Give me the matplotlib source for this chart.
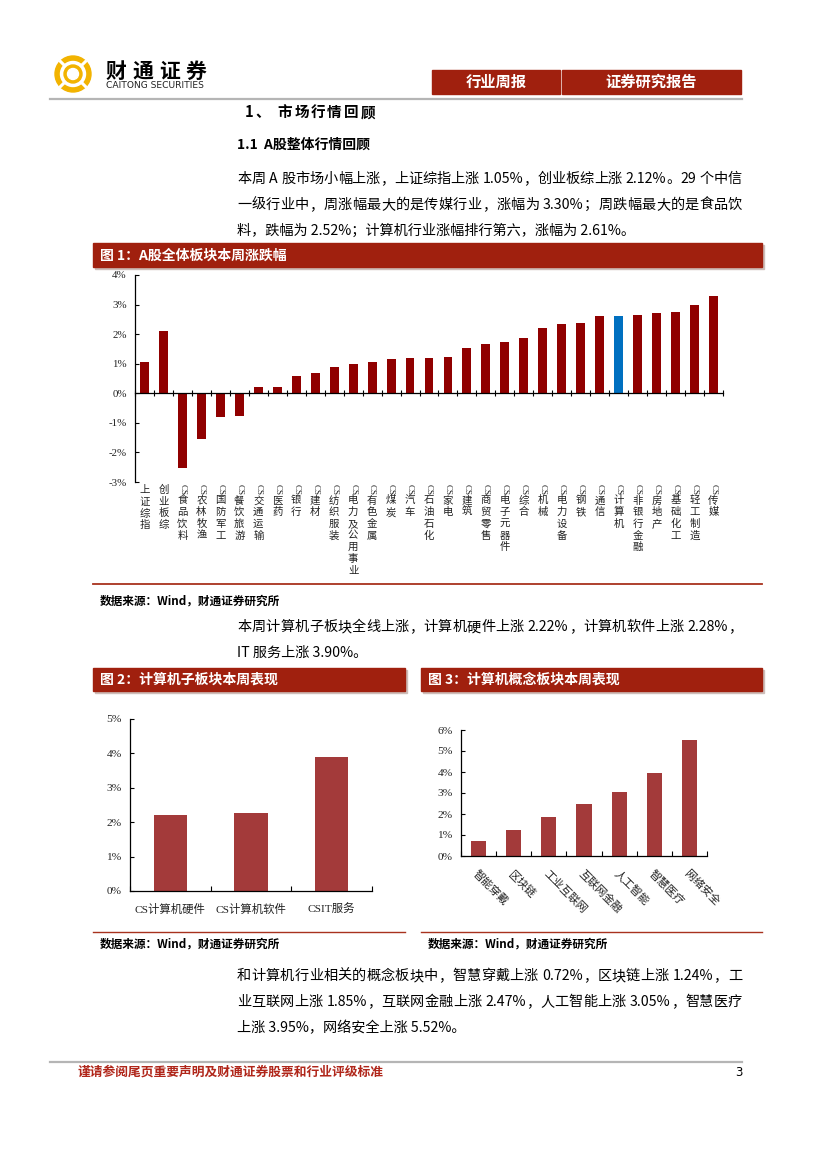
import matplotlib
matplotlib.use('Agg')
import matplotlib.pyplot as plt
import numpy as np
from matplotlib.patches import Rectangle, Circle

W, H = 827, 1170
CJK = ['Noto Sans CJK SC', 'DejaVu Sans']
SER = ['Liberation Serif', 'Noto Sans CJK SC']
PT = 0.72  # points per pixel at 100 dpi

# ---------------- data ----------------
cats1 = ['上证综指', '创业板综', 'CS食品饮料', 'CS农林牧渔', 'CS国防军工', 'CS餐饮旅游',
         'CS交通运输', 'CS医药', 'CS银行', 'CS建材', 'CS纺织服装', 'CS电力及公用事业',
         'CS有色金属', 'CS煤炭', 'CS汽车', 'CS石油石化', 'CS家电', 'CS建筑', 'CS商贸零售',
         'CS电子元器件', 'CS综合', 'CS机械', 'CS电力设备', 'CS钢铁', 'CS通信', 'CS计算机',
         'CS非银行金融', 'CS房地产', 'CS基础化工', 'CS轻工制造', 'CS传媒']
vals1 = [1.05, 2.12, -2.52, -1.55, -0.81, -0.78, 0.20, 0.21, 0.60, 0.70, 0.88, 0.98,
         1.06, 1.16, 1.19, 1.20, 1.24, 1.54, 1.65, 1.73, 1.88, 2.20, 2.35, 2.38, 2.60, 2.61,
         2.65, 2.70, 2.74, 2.98, 3.30]
highlight1 = 'CS计算机'
yticks1 = [-3, -2, -1, 0, 1, 2, 3, 4]

cats2 = ['CS计算机硬件', 'CS计算机软件', 'CSIT服务']
vals2 = [2.22, 2.28, 3.90]
yticks2 = [0, 1, 2, 3, 4, 5]

cats3 = ['智能穿戴', '区块链', '工业互联网', '互联网金融', '人工智能', '智慧医疗', '网络安全']
vals3 = [0.72, 1.24, 1.85, 2.47, 3.05, 3.95, 5.52]
yticks3 = [0, 1, 2, 3, 4, 5, 6]

para1 = ['本周 A 股市场小幅上涨，上证综指上涨 1.05%，创业板综上涨 2.12%。29 个中信',
         '一级行业中，周涨幅最大的是传媒行业，涨幅为 3.30%；周跌幅最大的是食品饮',
         '料，跌幅为 2.52%；计算机行业涨幅排行第六，涨幅为 2.61%。']
para2 = ['本周计算机子板块全线上涨，计算机硬件上涨 2.22%，计算机软件上涨 2.28%，',
         'IT 服务上涨 3.90%。']
para3 = ['和计算机行业相关的概念板块中，智慧穿戴上涨 0.72%，区块链上涨 1.24%，工',
         '业互联网上涨 1.85%，互联网金融上涨 2.47%，人工智能上涨 3.05%，智慧医疗',
         '上涨 3.95%，网络安全上涨 5.52%。']

RED_BAR = '#A0200E'
RED1 = '#900000'
BLUE = '#0070C0'
RED2 = '#A33A3A'
GOLD = '#F2B300'

fig = plt.figure(figsize=(W / 100, H / 100), dpi=100)
pg = fig.add_axes([0, 0, 1, 1])
pg.set_xlim(0, W)
pg.set_ylim(H, 0)
pg.axis('off')
renderer = fig.canvas.get_renderer()


def rect(x0, y0, x1, y1):
    return [x0 / W, 1 - y1 / H, (x1 - x0) / W, (y1 - y0) / H]


def tokens(s):
    out, run = [], ''
    for ch in s:
        if ch == ' ':
            if run:
                out.append(run); run = ''
            out.append(' ')
        elif ord(ch) < 128:
            run += ch
        else:
            if run:
                out.append(run); run = ''
            out.append(ch)
    if run:
        out.append(run)
    return out


def jline(s, x0, yc, size, x1=None, color='black', weight='normal'):
    base = yc + 0.36 * size / PT
    kw = dict(fontsize=size, color=color, fontweight=weight, family=CJK,
              va='baseline', ha='left')
    if x1 is None:
        pg.text(x0, base, s, **kw)
        return
    toks = tokens(s)
    ws = []
    for t in toks:
        if t == ' ':
            ws.append(size / PT * 0.25)
        else:
            tt = pg.text(0, 0, t, **kw)
            ws.append(tt.get_window_extent(renderer).width)
            tt.remove()
    gap = (x1 - x0 - sum(ws)) / (len(toks) - 1)
    x = x0
    for t, w in zip(toks, ws):
        if t != ' ':
            pg.text(x, base, t, **kw)
        x += w + gap


def title_bar(x0, x1, y0, y1, txt):
    pg.add_patch(Rectangle((x0 + 1.5, y0 + 1.5), x1 - x0, y1 - y0, color='#CDBDB9', zorder=1))
    pg.add_patch(Rectangle((x0, y0), x1 - x0, y1 - y0, color=RED_BAR, zorder=2))
    pg.text(x0 + 7, (y0 + y1) / 2 + 0.5, txt, color='white', fontsize=10, fontweight='bold',
            family=CJK, va='center', ha='left', zorder=3)


def source(x, y):
    pg.text(x, y, '数据来源：Wind，财通证券研究所', fontsize=8.4, fontweight='bold',
            family=CJK, va='center', ha='left')


# ---------------- header ----------------
cx, cy = 73, 74
pg.add_patch(Circle((cx, cy), 18, color=GOLD))
pg.add_patch(Circle((cx, cy), 12.5, color='white'))
for a in np.deg2rad([45, 135, 225, 315]):
    pg.plot([cx + 11 * np.cos(a), cx + 19 * np.cos(a)], [cy + 11 * np.sin(a), cy + 19 * np.sin(a)],
            color='white', lw=2.2, solid_capstyle='butt')
pg.add_patch(Circle((cx, cy), 9, color=GOLD))
pg.add_patch(Circle((cx, cy), 5.5, color='white'))
jline('财通证券', 106, 70, 15, x1=206, weight='bold')
pg.text(106, 85.5, 'CAITONG SECURITIES', fontsize=6.6, family=['DejaVu Sans'], va='center',
        ha='left', color='#222222')

pg.add_patch(Rectangle((432, 70), 128, 24, color=RED_BAR))
pg.add_patch(Rectangle((562, 70), 179, 24, color=RED_BAR))
pg.text(496, 82, '行业周报', color='white', fontsize=11, fontweight='bold', family=CJK,
        ha='center', va='center')
pg.text(651, 82, '证券研究报告', color='white', fontsize=11, fontweight='bold', family=CJK,
        ha='center', va='center')
pg.plot([50, 742], [98.5, 98.5], color='#B5B5B5', lw=1.6)

jline('1、 市场行情回顾', 245, 112, 10.5, x1=375, weight='bold')
pg.text(237, 145, '1.1  A股整体行情回顾', fontsize=10, fontweight='bold', family=CJK,
        va='center', ha='left')

for k, line in enumerate(para1):
    jline(line, 237, 178 + 26 * k, 10.2, x1=742 if k < len(para1) - 1 else None)

# ---------------- chart 1 ----------------
title_bar(93, 762, 243, 267, '图 1：A股全体板块本周涨跌幅')
ax1 = fig.add_axes(rect(135, 275, 723, 482))
n1 = len(cats1)
x1 = np.arange(n1)
cols1 = [BLUE if c == highlight1 else RED1 for c in cats1]
ax1.bar(x1, vals1, width=0.47, color=cols1, zorder=2)
ax1.set_xlim(-0.5, n1 - 0.5)
ax1.set_ylim(yticks1[0], yticks1[-1])
ax1.spines['top'].set_visible(False)
ax1.spines['right'].set_visible(False)
ax1.spines['bottom'].set_position(('data', 0))
for s in ('left', 'bottom'):
    ax1.spines[s].set_linewidth(0.9)
    ax1.spines[s].set_zorder(3)
ax1.set_yticks(yticks1)
ax1.set_yticklabels([f'{v}%' for v in yticks1], family=SER, fontsize=7.8, color='#222222')
ax1.tick_params(axis='y', direction='in', length=3, width=0.8, pad=6)
ax1.set_xticks(np.arange(n1 + 1) - 0.5)
ax1.set_xticklabels([])
ax1.tick_params(axis='x', direction='inout', length=4, width=0.8)
ax1.patch.set_alpha(0)
for i, lab in enumerate(cats1):
    chars, start = lab, 3
    if lab.startswith('CS'):
        ax1.annotate('CS', xy=(i, yticks1[0]), xycoords='data', xytext=(0, -1.5 * PT),
                     textcoords='offset points', rotation=-90, ha='center', va='top',
                     fontsize=6.5, family=SER, color='#222222', annotation_clip=False)
        chars, start = lab[2:], 13.5
    for k, ch in enumerate(chars):
        ax1.annotate(ch, xy=(i, yticks1[0]), xycoords='data',
                     xytext=(0, -(start + k * 11.7) * PT), textcoords='offset points',
                     ha='center', va='top', fontsize=7.5, family=CJK, color='#222222',
                     annotation_clip=False)

pg.plot([93, 762], [584, 584], color='#A8321E', lw=1.3)
source(100, 601)

for k, line in enumerate(para2):
    jline(line, 237, 626 + 26 * k, 10.2, x1=742 if k < len(para2) - 1 else None)

# ---------------- chart 2 ----------------
title_bar(93, 405, 668, 691, '图 2：计算机子板块本周表现')
ax2 = fig.add_axes(rect(130, 719, 372, 891))
n2 = len(cats2)
ax2.bar(np.arange(n2), vals2, width=0.41, color=RED2, zorder=2)
ax2.set_xlim(-0.5, n2 - 0.5)
ax2.set_ylim(yticks2[0], yticks2[-1])
ax2.set_yticks(yticks2)
ax2.set_yticklabels([f'{v}%' for v in yticks2], family=SER, fontsize=8.2, color='#222222')
ax2.set_xticks(np.arange(n2))
ax2.set_xticklabels(cats2, family=SER, fontsize=8.2, color='#222222')
ax2.set_xticks(np.arange(n2 + 1) - 0.5, minor=True)
ax2.tick_params(axis='x', which='major', length=0, pad=9)
ax2.tick_params(axis='x', which='minor', direction='in', length=3.5, width=0.8)
ax2.tick_params(axis='y', direction='in', length=3, width=0.8, pad=6)

# ---------------- chart 3 ----------------
title_bar(421, 762, 668, 691, '图 3：计算机概念板块本周表现')
ax3 = fig.add_axes(rect(461, 730, 707, 856))
n3 = len(cats3)
ax3.bar(np.arange(n3), vals3, width=0.43, color=RED2, zorder=2)
ax3.set_xlim(-0.5, n3 - 0.5)
ax3.set_ylim(yticks3[0], yticks3[-1])
ax3.set_yticks(yticks3)
ax3.set_yticklabels([f'{v}%' for v in yticks3], family=SER, fontsize=8.2, color='#222222')
ax3.set_xticks(np.arange(n3))
ax3.set_xticklabels(cats3, family=CJK, fontsize=8, color='#222222', rotation=-45,
                    ha='left', va='top', rotation_mode='anchor')
ax3.set_xticks(np.arange(n3 + 1) - 0.5, minor=True)
ax3.tick_params(axis='x', which='major', length=0, pad=9)
ax3.tick_params(axis='x', which='minor', direction='in', length=3.5, width=0.8)
ax3.tick_params(axis='y', direction='in', length=3, width=0.8, pad=6)

for ax in (ax2, ax3):
    ax.spines['top'].set_visible(False)
    ax.spines['right'].set_visible(False)
    for s in ('left', 'bottom'):
        ax.spines[s].set_linewidth(0.9)
    ax.patch.set_alpha(0)

pg.plot([93, 405], [932, 932], color='#A8321E', lw=1.0)
pg.plot([421, 762], [932, 932], color='#A8321E', lw=1.0)
source(100, 944)
source(428, 944)

for k, line in enumerate(para3):
    jline(line, 237, 975 + 26 * k, 10.2, x1=742 if k < len(para3) - 1 else None)

# ---------------- footer ----------------
pg.plot([50, 742], [1062, 1062], color='#B5B5B5', lw=1.6)
pg.text(78, 1072, '谨请参阅尾页重要声明及财通证券股票和行业评级标准', fontsize=9.2,
        fontweight='bold', color='#B0261A', family=CJK, va='center', ha='left')
pg.text(735, 1072, '3', fontsize=8.5, family=['DejaVu Sans'], va='center', ha='left')

fig.savefig('out.png', dpi=100)
